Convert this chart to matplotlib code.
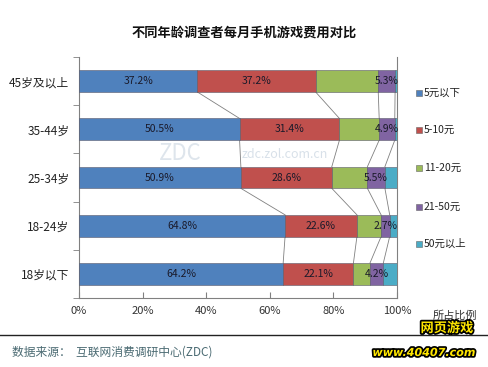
import matplotlib
matplotlib.use("Agg")
import matplotlib.pyplot as plt
import matplotlib.patheffects as pe
import numpy as np

plt.rcParams['font.family'] = ['Noto Sans CJK SC', 'DejaVu Sans']

categories = ['45岁及以上', '35-44岁', '25-34岁', '18-24岁', '18岁以下']
series_names = ['5元以下', '5-10元', '11-20元', '21-50元', '50元以上']
v_below5 = [37.2, 50.5, 50.9, 64.8, 64.2]
v_5_10 = [37.2, 31.4, 28.6, 22.6, 22.1]
v_11_20 = [19.7, 12.5, 11.2, 7.6, 5.2]
v_21_50 = [5.3, 4.9, 5.5, 2.7, 4.2]
v_above50 = [0.6, 0.7, 3.8, 2.3, 4.3]
xtick_labels = ['0%', '20%', '40%', '60%', '80%', '100%']
colors = ['#4F81BD', '#C0504D', '#9BBB59', '#8064A2', '#4BACC6']
show_label = [True, True, False, True, False]

series = [v_below5, v_5_10, v_11_20, v_21_50, v_above50]

fig = plt.figure(figsize=(4.89, 3.67), dpi=100)
fig.patch.set_facecolor('white')
ax = fig.add_axes([79/489, 1-298/367, 318/489, 241/367])

ypos = np.arange(len(categories))
h = 0.45
left = np.zeros(len(categories))
cums = []
for i, (vals, c) in enumerate(zip(series, colors)):
    vals = np.array(vals)
    ax.barh(ypos, vals, left=left, height=h, color=c, edgecolor='#5a5a6a', linewidth=0.4, zorder=3)
    if show_label[i]:
        for y, l, v in zip(ypos, left, vals):
            ax.text(l + v/2, y, f'{v:.1f}%', ha='center', va='center', fontsize=7.5,
                    color='#1a1a2a', zorder=5)
    left = left + vals
    cums.append(left.copy())

# connector lines
for k in range(4):
    cum = cums[k]
    for j in range(len(categories)-1):
        ax.plot([cum[j], cum[j+1]], [ypos[j] + h/2, ypos[j+1] - h/2],
                color='#808080', linewidth=0.6, zorder=2)

ax.set_xlim(0, 100)
ax.set_ylim(len(categories)-0.5, -0.5)
ax.set_xticks(np.arange(0, 101, 20))
ax.set_xticklabels(xtick_labels, fontsize=8, color='#333333')
ax.set_yticks(ypos)
ax.set_yticklabels(categories, fontsize=8.5, color='#222222')
ax.set_yticks(np.arange(-0.5, len(categories), 1), minor=True)
ax.tick_params(axis='y', which='major', length=0, pad=7)
ax.tick_params(axis='y', which='minor', length=4, direction='out', color='#808080')
ax.tick_params(axis='x', length=4, direction='in', color='#808080', pad=6)
ax.spines['top'].set_visible(False)
for s in ['left', 'bottom', 'right']:
    ax.spines[s].set_color('#808080')
    ax.spines[s].set_linewidth(0.8)

# watermark (faint), placed in the gap between bars
fig.text(180/489, 1-154/367, 'ZDC', fontsize=16, color='#c8d4e0', alpha=0.6, ha='center', va='center', zorder=10)
fig.text(285/489, 1-154/367, 'zdc.zol.com.cn', fontsize=9, color='#c8d4e0', alpha=0.7, ha='center', va='center', zorder=10)

fig.text(0.5, 1-33/367, '不同年龄调查者每月手机游戏费用对比', ha='center', va='center',
         fontsize=9.5, fontweight='bold', color='#111111')
fig.text(455/489, 1-315/367, '所占比例', ha='center', va='center', fontsize=8, color='#333333')

# legend
leg_y = [93, 130, 168, 207, 244]
for name, c, y in zip(series_names, colors, leg_y):
    fig.patches.append(plt.Rectangle((416/489, 1-(y+3)/367), 6/489, 6/367,
                                     transform=fig.transFigure, facecolor=c, edgecolor='#666666', linewidth=0.4))
    fig.text(424/489, 1-y/367, name, ha='left', va='center', fontsize=7.5, color='#222222')

# separator and source
fig.add_artist(plt.Line2D([0, 1], [1-335/367, 1-335/367], color='#222222', linewidth=1.0))
fig.text(12/489, 1-352/367, '数据来源：  互联网消费调研中心(ZDC)', ha='left', va='center',
         fontsize=8.5, color='#4a6a72')

# logo text
fig.text(447/489, 1-328/367, '网页游戏', ha='center', va='center', fontsize=9.5, fontweight='bold',
         color='#ffe600', path_effects=[pe.withStroke(linewidth=2.5, foreground='black')], zorder=20)
fig.text(424/489, 1-353/367, 'www.40407.com', ha='center', va='center', fontsize=8, fontweight='bold',
         style='italic', color='#ffe600', family='DejaVu Sans',
         path_effects=[pe.withStroke(linewidth=2.5, foreground='black')], zorder=20)

fig.savefig('out.png', dpi=100, facecolor='white')
